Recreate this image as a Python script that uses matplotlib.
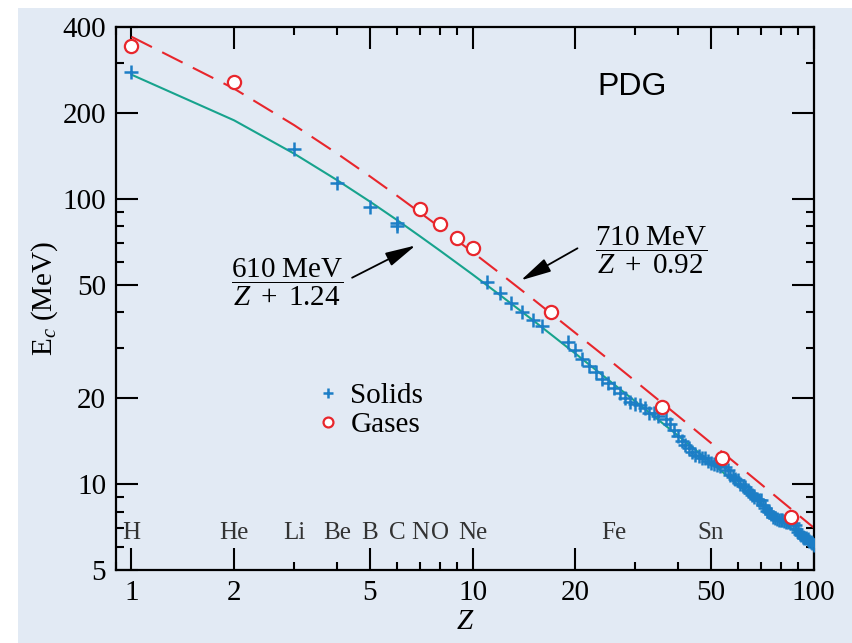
import matplotlib
matplotlib.use('Agg')
import matplotlib.pyplot as plt
from matplotlib.ticker import FixedLocator, LogLocator, NullFormatter, FixedFormatter
from matplotlib.patches import Rectangle

plt.rcParams['font.family'] = 'Liberation Serif'
plt.rcParams['mathtext.fontset'] = 'custom'
plt.rcParams['mathtext.rm'] = 'Liberation Serif'
plt.rcParams['mathtext.it'] = 'Liberation Serif:italic'

# data
solid_z = [1, 3, 4, 5, 6, 6, 11, 12, 13, 14, 15, 16,
           19, 20, 21, 22, 23, 24, 25, 26, 27, 28, 29, 30, 31, 32, 33, 34, 35,
           37, 38, 39, 40, 41, 42, 43, 44, 45, 46, 47, 48, 49, 50, 51, 52, 53,
           55, 56, 57, 58, 59, 60, 61, 62, 63, 64, 65, 66, 67, 68, 69, 70,
           71, 72, 73, 74, 75, 76, 77, 78, 79, 80, 81, 82, 83, 84, 85,
           87, 88, 89, 90, 91, 92, 93, 94, 95, 96, 97, 98, 99, 100]
solid_ec = [278, 149, 113.5, 93.3, 82.0, 80.6, 50.9, 46.6, 43.0, 40.0, 37.5, 35.7,
            31.6, 29.6, 27.4, 26.0, 24.7, 23.4, 22.6, 21.7, 20.8, 20.1, 19.4, 19.1, 18.9, 18.5, 17.8, 17.7, 17.3,
            16.9, 16.3, 15.5, 14.8, 14.2, 13.7, 13.4, 13.0, 12.7, 12.5, 12.3, 12.3, 12.1, 11.9, 11.8, 11.7, 11.6,
            11.5, 11.2, 10.8, 10.6, 10.4, 10.3, 10.0, 9.84, 9.78, 9.54, 9.30, 9.16, 9.03, 8.90, 8.77, 8.82,
            8.44, 8.25, 8.06, 7.97, 7.84, 7.70, 7.60, 7.55, 7.49, 7.51, 7.49, 7.43, 7.39, 7.37, 7.35,
            7.32, 7.18, 6.96, 6.82, 6.68, 6.65, 6.54, 6.47, 6.47, 6.40, 6.33, 6.27, 6.20, 6.14]

gas_z = [1, 2, 7, 8, 9, 10, 17, 36, 54, 86]
gas_ec = [344, 257, 91.9, 81.5, 72.8, 67.2, 40.0, 18.6, 12.3, 7.64]

# fitted curves, read at a set of Z values
fit_z = [1, 2, 3, 4, 5, 6, 7, 8, 10, 12, 15, 20, 25, 30, 40, 50, 60, 70, 80, 90, 100]
solid_fit = [272.3, 188.3, 143.9, 116.4, 97.8, 84.3, 74.0, 66.0, 54.3, 46.1, 37.6,
             28.7, 23.2, 19.5, 14.8, 11.9, 9.96, 8.56, 7.51, 6.69, 6.03]
gas_fit = [369.8, 243.2, 181.1, 144.3, 119.9, 102.6, 89.6, 79.6, 65.0, 54.95, 44.6,
           33.9, 27.4, 22.96, 17.35, 13.94, 11.65, 10.01, 8.77, 7.81, 7.04]

elem_names = ['H', 'He', 'Li', 'Be', 'B', 'C', 'N', 'O', 'Ne', 'Fe', 'Sn']
elem_z = [1, 2, 3, 4, 5, 6, 7, 8, 10, 26, 50]

x_ticks = [1, 2, 5, 10, 20, 50, 100]
y_ticks = [5, 10, 20, 50, 100, 200, 400]

bg = '#e2eaf4'
fig = plt.figure(figsize=(8.52, 6.43), dpi=100, facecolor='white')
fig.patches.append(Rectangle((18 / 852, 0), 1, 635 / 643, transform=fig.transFigure,
                             facecolor=bg, edgecolor='none', zorder=-10))
ax = fig.add_axes([0.136, 0.1135, 0.819, 0.8445])
ax.set_facecolor(bg)

ax.plot(fit_z, solid_fit, color='#17a38d', lw=1.5, zorder=2)
ax.plot(fit_z, gas_fit, color='#e8262c', lw=1.5, dashes=(11, 5.5), zorder=2)
ax.plot(solid_z, solid_ec, ls='none', marker='+', ms=10, mew=1.8, color='#1c7ec6',
        label='Solids', zorder=3)
ax.plot(gas_z, gas_ec, ls='none', marker='o', ms=9.5, mew=1.6, mec='#e8262c', mfc='white',
        label='Gases', zorder=4)

ax.set_xscale('log')
ax.set_yscale('log')
ax.set_xlim(0.9, 100)
ax.set_ylim(5, 400)

ax.xaxis.set_major_locator(FixedLocator(x_ticks))
ax.xaxis.set_major_formatter(FixedFormatter([str(t) for t in x_ticks]))
ax.xaxis.set_minor_locator(LogLocator(base=10, subs=range(2, 10)))
ax.xaxis.set_minor_formatter(NullFormatter())
ax.yaxis.set_major_locator(FixedLocator(y_ticks))
ax.yaxis.set_major_formatter(FixedFormatter([str(t) for t in y_ticks]))
ax.yaxis.set_minor_locator(LogLocator(base=10, subs=range(2, 10)))
ax.yaxis.set_minor_formatter(NullFormatter())

ax.tick_params(which='both', direction='in', top=True, right=True, width=1.5, labelsize=21)
ax.tick_params(which='major', length=16, pad=7)
ax.tick_params(which='minor', length=6)
for s in ax.spines.values():
    s.set_linewidth(1.6)

ax.set_xlabel('$Z$', fontsize=21, labelpad=2)
ax.set_ylabel('E$_{c}$ (MeV)', fontsize=21, labelpad=2)

for name, z in zip(elem_names, elem_z):
    ax.text(z, 0.068, name, transform=ax.get_xaxis_transform(), ha='center', va='center',
            fontsize=18, color='#333333')

ax.text(0.74, 0.889, 'PDG', transform=ax.transAxes, ha='center', va='center',
        fontsize=23, family='Liberation Sans')

ax.text(0.245, 0.530, r'$\dfrac{\mathrm{610\ MeV}}{Z\ +\ 1.24}$', transform=ax.transAxes,
        ha='center', va='center', fontsize=21)
ax.text(0.768, 0.589, r'$\dfrac{\mathrm{710\ MeV}}{Z\ +\ 0.92}$', transform=ax.transAxes,
        ha='center', va='center', fontsize=21)
arrow = dict(arrowstyle='-|>,head_length=0.85,head_width=0.2', mutation_scale=22,
             lw=1.3, color='black')
ax.annotate('', xy=(0.433, 0.600), xytext=(0.335, 0.536), xycoords='axes fraction',
            arrowprops=arrow)
ax.annotate('', xy=(0.577, 0.531), xytext=(0.665, 0.595), xycoords='axes fraction',
            arrowprops=arrow)

ax.legend(loc='upper left', bbox_to_anchor=(0.265, 0.372), frameon=False, fontsize=21,
          handlelength=0.9, handletextpad=0.3, labelspacing=0.1, borderpad=0,
          markerscale=0.75)

fig.savefig('out.png', dpi=100, facecolor=fig.get_facecolor())
